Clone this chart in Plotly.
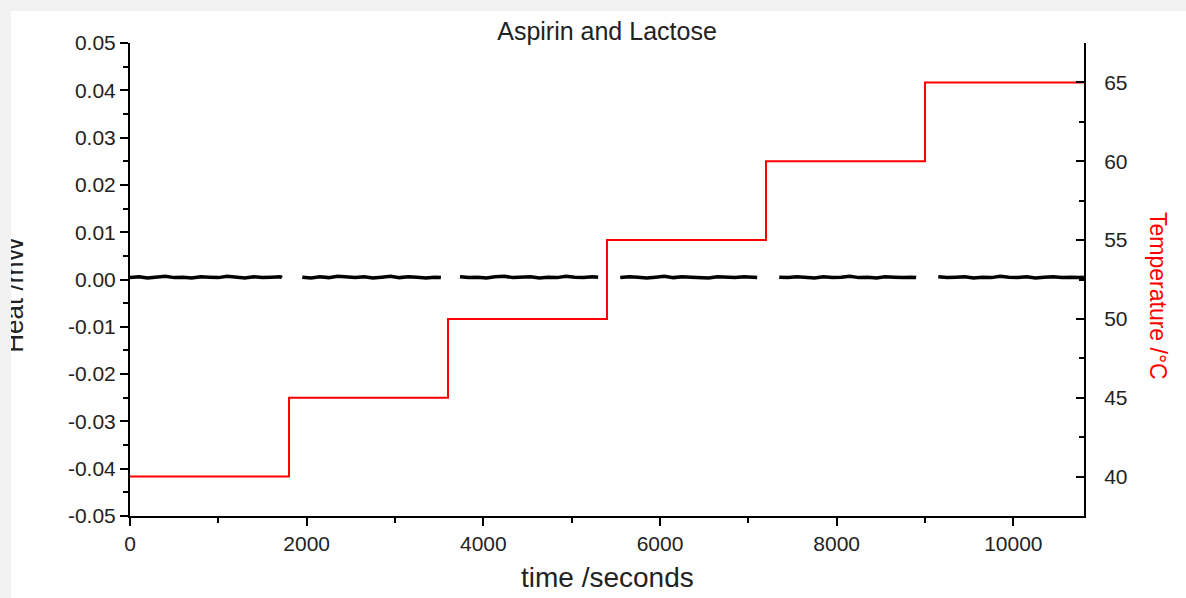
import plotly.graph_objects as go

# ---------------- data ----------------
step_time = [0, 1800, 3600, 5400, 7200, 9000, 10800]
step_temp = [40, 45, 50, 55, 60, 65, 65]

heat_time = [
    0, 100, 200, 300, 400, 500, 600, 700, 800, 900, 1000, 1100, 1200, 1300, 1400, 1500, 1600, 1700, 1720,
    1835,
    1950, 2050, 2150, 2250, 2350, 2450, 2550, 2650, 2750, 2850, 2950, 3050, 3150, 3250, 3350, 3450, 3520,
    3630,
    3735, 3835, 3935, 4035, 4135, 4235, 4335, 4435, 4535, 4635, 4735, 4835, 4935, 5035, 5135, 5235, 5300,
    5425,
    5550, 5650, 5750, 5850, 5950, 6050, 6150, 6250, 6350, 6450, 6550, 6650, 6750, 6850, 6950, 7050, 7100,
    7225,
    7350, 7450, 7550, 7650, 7750, 7850, 7950, 8050, 8150, 8250, 8350, 8450, 8550, 8650, 8750, 8850, 8900,
    9025,
    9150, 9250, 9350, 9450, 9550, 9650, 9750, 9850, 9950, 10050, 10150, 10250, 10350, 10450, 10550, 10650, 10750, 10800,
]
heat_value = [
    0.0004, 0.0006, 0.0003, 0.0005, 0.0007, 0.0004, 0.0005, 0.0003, 0.0006, 0.0005, 0.0004, 0.0007, 0.0005, 0.0003, 0.0006, 0.0004, 0.0005, 0.0006, 0.0004,
    None,
    0.0005, 0.0003, 0.0006, 0.0004, 0.0007, 0.0005, 0.0004, 0.0006, 0.0003, 0.0005, 0.0007, 0.0004, 0.0006, 0.0005, 0.0003, 0.0005, 0.0004,
    None,
    0.0006, 0.0004, 0.0005, 0.0003, 0.0006, 0.0007, 0.0004, 0.0005, 0.0006, 0.0003, 0.0005, 0.0004, 0.0007, 0.0005, 0.0004, 0.0006, 0.0005,
    None,
    0.0004, 0.0006, 0.0005, 0.0003, 0.0005, 0.0007, 0.0004, 0.0006, 0.0005, 0.0004, 0.0003, 0.0006, 0.0005, 0.0004, 0.0006, 0.0005, 0.0004,
    None,
    0.0005, 0.0004, 0.0006, 0.0005, 0.0003, 0.0006, 0.0004, 0.0005, 0.0007, 0.0004, 0.0005, 0.0003, 0.0006, 0.0005, 0.0004, 0.0005, 0.0004,
    None,
    0.0006, 0.0004, 0.0005, 0.0006, 0.0003, 0.0005, 0.0004, 0.0007, 0.0005, 0.0004, 0.0006, 0.0003, 0.0005, 0.0006, 0.0004, 0.0005, 0.0004, 0.0005,
]

heat_ticks = [-0.05, -0.04, -0.03, -0.02, -0.01, 0.0, 0.01, 0.02, 0.03, 0.04, 0.05]
heat_tick_text = ["-0.05", "-0.04", "-0.03", "-0.02", "-0.01", "0.00", "0.01", "0.02", "0.03", "0.04", "0.05"]
time_ticks = [0, 2000, 4000, 6000, 8000, 10000]
time_tick_text = ["0", "2000", "4000", "6000", "8000", "10000"]
temp_ticks = [40, 45, 50, 55, 60, 65]

title_text = "Aspirin and Lactose"
x_title = "time /seconds"
y_title = "Heat /mW"
y2_title = "Temperature /°C"

# ---------------- figure ----------------
FONT = "Liberation Sans, Arial, sans-serif"

fig = go.Figure()
fig.add_trace(go.Scatter(
    x=heat_time, y=heat_value, mode="lines", connectgaps=False,
    line=dict(color="black", width=3.5), yaxis="y", showlegend=False,
))
fig.add_trace(go.Scatter(
    x=step_time, y=step_temp, mode="lines", line_shape="hv",
    line=dict(color="#ff0000", width=2), yaxis="y2", showlegend=False,
))

axis_common = dict(
    showgrid=False, zeroline=False, showline=True, linecolor="black", linewidth=2,
    tickcolor="black", tickwidth=2, ticklen=8,
    tickfont=dict(family=FONT, size=21, color="#222"),
    automargin=False,
)

fig.update_layout(
    width=1175, height=587,
    margin=dict(l=119, r=102, t=32, b=82),
    paper_bgcolor="white", plot_bgcolor="white",
    font=dict(family=FONT, color="black"),
    title=dict(text=title_text, x=0.5, xref="paper", xanchor="center",
               y=1 - 20 / 587, yanchor="middle",
               font=dict(family=FONT, size=25, color="#222")),
    xaxis=dict(range=[0, 10800], tickvals=time_ticks, ticktext=time_tick_text,
               ticks="outside",
               minor=dict(dtick=1000, tick0=0, ticks="outside", ticklen=5,
                          tickwidth=2, tickcolor="black"),
               **axis_common),
    yaxis=dict(range=[-0.05, 0.05], tickvals=heat_ticks, ticktext=heat_tick_text,
               ticks="outside",
               minor=dict(dtick=0.005, tick0=0, ticks="outside", ticklen=5,
                          tickwidth=2, tickcolor="black"),
               **axis_common),
    yaxis2=dict(range=[37.5, 67.5], tickvals=temp_ticks, overlaying="y", side="right",
                ticks="inside", ticklabelstandoff=14,
                minor=dict(dtick=2.5, tick0=0, ticks="inside", ticklen=5,
                           tickwidth=2, tickcolor="black"),
                **axis_common),
    annotations=[
        dict(text=x_title, xref="paper", yref="paper", x=0.5, y=-0.131,
             xanchor="center", yanchor="middle", showarrow=False,
             font=dict(family=FONT, size=28, color="#222")),
        dict(text=y_title, xref="paper", yref="paper", x=-0.121, y=0.467,
             xanchor="center", yanchor="middle", showarrow=False, textangle=-90,
             font=dict(family=FONT, size=26, color="#222")),
        dict(text=y2_title, xref="paper", yref="paper", x=1.0776, y=0.465,
             xanchor="center", yanchor="middle", showarrow=False, textangle=90,
             font=dict(family=FONT, size=23, color="#ff0000")),
    ],
)

post = (
    "document.body.style.margin='0';"
    "document.body.style.background='#f2f2f2';"
    "document.body.style.overflow='hidden';"
    "var d=document.getElementById('{plot_id}');"
    "d.style.position='absolute';d.style.left='11px';d.style.top='11px';"
)

fig.write_html("out.html", post_script=post)
